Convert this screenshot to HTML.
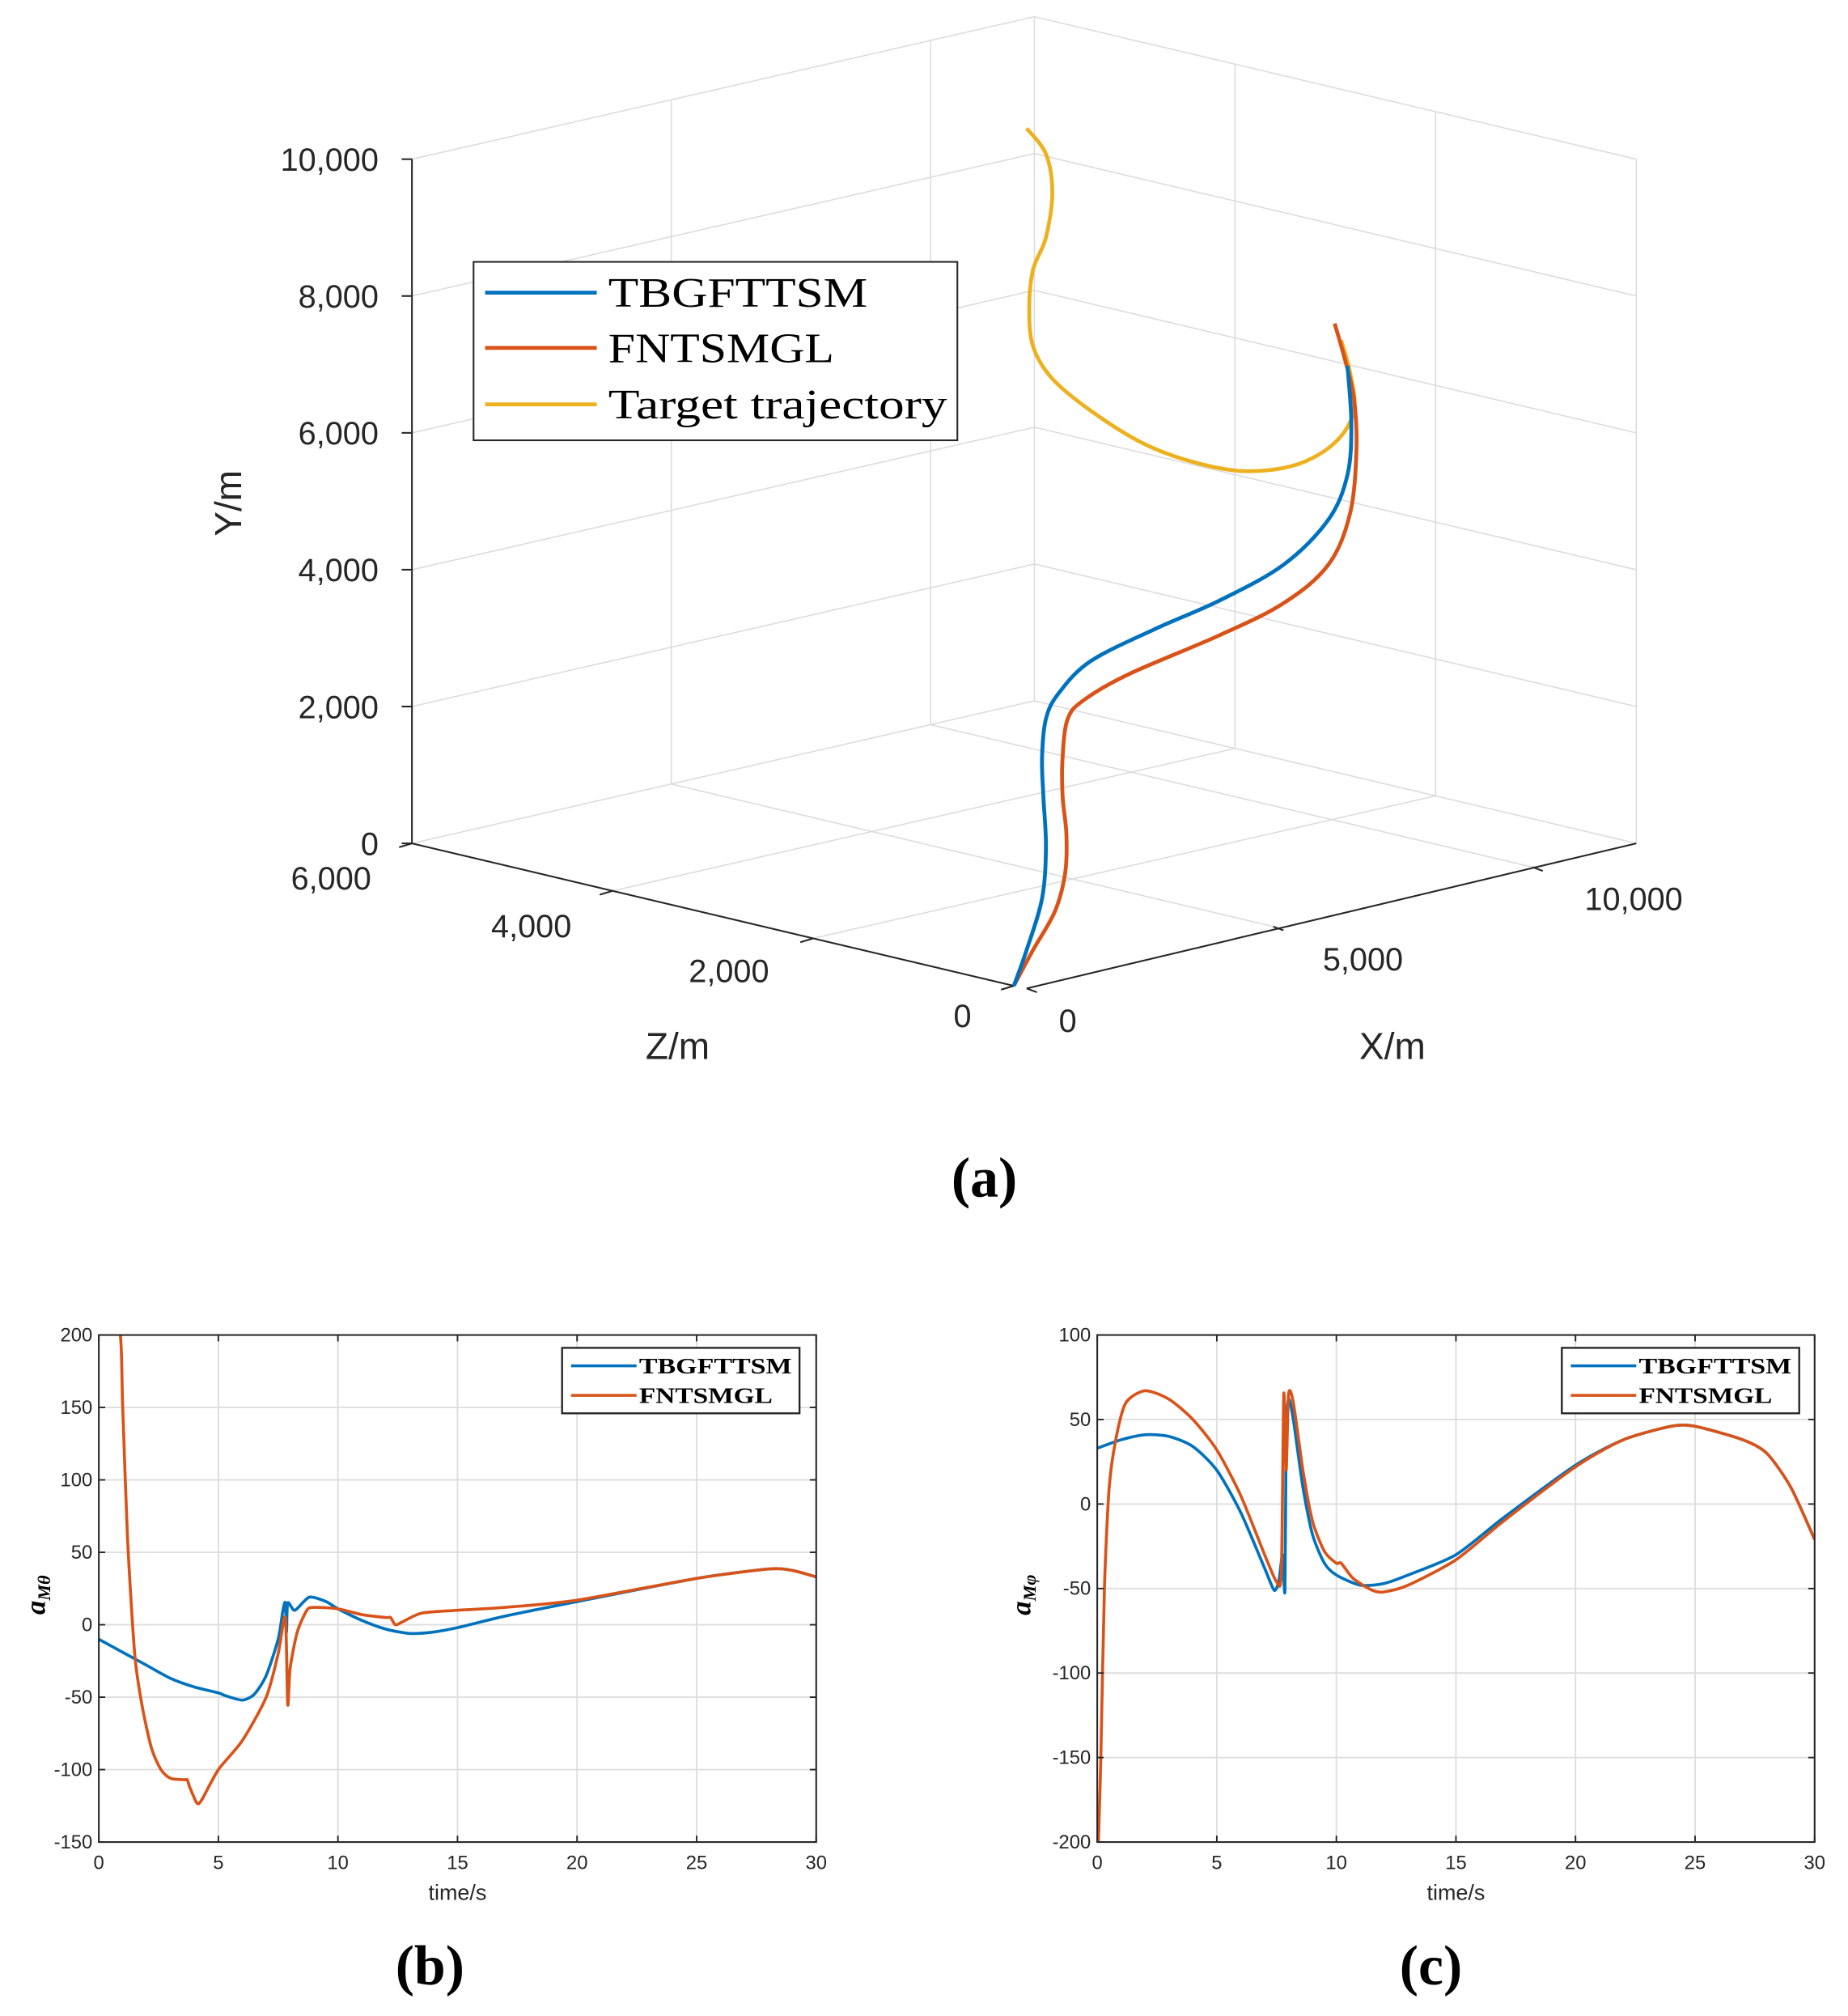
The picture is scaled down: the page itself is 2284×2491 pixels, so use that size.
<!DOCTYPE html>
<html><head><meta charset="utf-8"><style>
html,body{margin:0;padding:0;background:#fff}
svg{display:block}
text{font-family:"Liberation Sans",sans-serif;fill:#262626}
.serif{font-family:"Liberation Serif",serif;fill:#000}
</style></head><body>
<svg id="fig" width="2284" height="2491" viewBox="0 0 1440 1570.5" preserveAspectRatio="none" xmlns="http://www.w3.org/2000/svg">
<g id="panelA"></g>
<g id="panelB"></g>
<g id="panelC"></g>
<text class="serif" x="767" y="932" font-size="44" font-weight="bold" text-anchor="middle">(a)</text>
<text class="serif" x="335" y="1546" font-size="44" font-weight="bold" text-anchor="middle">(b)</text>
<text class="serif" x="1115" y="1546" font-size="44" font-weight="bold" text-anchor="middle">(c)</text>
</svg>
<script>
// ===== Panel (a) 3D data (metres) =====
const blueX=[0,247,544,619,569,544,619,866,1484,2721,3958,5195,6061,6432,6507,6432];
const blueY=[0,482,1182,1919,2677,3246,3795,4128,4490,4743,4942,5251,5758,6351,7088,7946];
const redX=[0,371,792,990,1014,940,940,1039,1361,2227,3958,5195,6061,6482,6606,6556,6383,6185];
const redY=[0,461,951,1478,2037,2613,3176,3722,3947,4173,4435,4689,5101,5779,6696,7454,8049,8608];
const tgtX=[247,619,742,619,371,297,371,742,1484,2474,3464,4453,5443,6185,6556,6482,6309];
const tgtY=[12490,12051,11465,10831,10405,9856,9280,8745,8148,7507,7054,6750,6672,6863,7266,7842,8341];
const yTicks3=[0,2000,4000,6000,8000,10000];
const xTicks3=[0,5000,10000];
const zTicks3=[0,2000,4000,6000];
// ===== Panel (b) =====
const bBlueT=[0,1,2,3,4,5,5.3,6,6.5,7,7.5,7.7,7.8,7.85,7.9,8.2,8.8,9.5,10,11,12,13,14,15,17,20,25,28,29,30];
const bBlueV=[-10,-19,-28,-37,-43,-47,-49,-52,-48,-35,-10,10,15,-5,15,10,19,16,11,3,-3,-6,-5,-2,6,16,32,38.5,37.5,33];
const bRedT=[0,0.85,1.0,1.2,1.5,1.8,2.2,2.6,3,3.6,3.7,3.8,4.1,4.3,5,6,7,7.5,7.8,7.9,8.0,8.3,8.7,9,10,11,12,12.2,12.4,12.7,13.5,15,17,20,25,28,29,30];
const bRedV=[205,205,150,60,-20,-55,-85,-100,-106,-107,-107,-112,-123,-121,-100,-80,-50,-20,5,-55,-30,-5,10,12,11,7,5,5,0,2,8,10,12,17,32,38.5,37.5,33];
const bXTicks=[0,5,10,15,20,25,30];
const bYTicks=[-150,-100,-50,0,50,100,150,200];
// ===== Panel (c) =====
const cBlueT=[0,1,2,3,4,5,6,7,7.4,7.6,7.75,7.85,7.9,8.0,8.2,8.6,9,9.5,10,11,12,13,15,17,20,22,24,25,27,28,29,30];
const cBlueV=[33,38,41,40,34,20,-5,-38,-51,-45,-30,-51,40,62,50,10,-18,-35,-42,-48,-47,-42,-30,-8,23,38,46,46,38,30,10,-21];
const cRedT=[0.05,0.15,0.3,0.5,0.8,1.2,2,3,4,5,6,7,7.5,7.7,7.8,7.9,8.0,8.2,8.6,9,9.5,10,10.2,10.7,11.5,12,13,15,17,20,22,24,25,27,28,29,30];
const cRedV=[-200,-150,-50,10,40,60,67,62,50,32,5,-30,-46,-40,65,20,65,60,20,-10,-28,-35,-35,-44,-51,-52,-48,-33,-10,22,38,46,46,38,30,10,-21];
const cXTicks=[0,5,10,15,20,25,30];
const cYTicks=[-200,-150,-100,-50,0,50,100];

const NS="http://www.w3.org/2000/svg";
function mk(parent,tag,attrs,name,txt){
  const e=document.createElementNS(NS,tag);
  for(const k in attrs)e.setAttribute(k,attrs[k]);
  
  
  if(txt!==undefined)e.textContent=txt;
  parent.appendChild(e);return e;
}
function smooth(pts,k){
  k=k||6;
  let d="M"+pts[0][0].toFixed(2)+","+pts[0][1].toFixed(2);
  for(let i=0;i<pts.length-1;i++){
    const p0=pts[Math.max(0,i-1)],p1=pts[i],p2=pts[i+1],p3=pts[Math.min(pts.length-1,i+2)];
    const c1=[p1[0]+(p2[0]-p0[0])/k,p1[1]+(p2[1]-p0[1])/k];
    const c2=[p2[0]-(p3[0]-p1[0])/k,p2[1]-(p3[1]-p1[1])/k];
    d+=" C"+c1[0].toFixed(2)+","+c1[1].toFixed(2)+" "+c2[0].toFixed(2)+","+c2[1].toFixed(2)+" "+p2[0].toFixed(2)+","+p2[1].toFixed(2);
  }
  return d;
}
const BLUE="#0072BD",RED="#D95319",YEL="#EDB120";

// ===== 3D projection =====
const XMAX=12000,ZMAX=6000,YMAX=10000;
function proj(X,Y,Z){
  return [790+X*485/XMAX-Z*469/ZMAX, 768-X*111/XMAX-Z*111/ZMAX-Y*533/YMAX];
}
(function(){
  const g=document.getElementById('panelA');
  const grid={stroke:"#dcdcdc","stroke-width":1,fill:"none"};
  function line(a,b,st,name){mk(g,'line',Object.assign({x1:a[0],y1:a[1],x2:b[0],y2:b[1]},st),name);}
  yTicks3.forEach(y=>{
    line(proj(0,y,ZMAX),proj(XMAX,y,ZMAX),grid,'left-wall-gridline');
    line(proj(XMAX,y,ZMAX),proj(XMAX,y,0),grid,'right-wall-gridline');
  });
  line(proj(XMAX,0,ZMAX),proj(XMAX,YMAX,ZMAX),grid,'back-edge');
  line(proj(XMAX,0,0),proj(XMAX,YMAX,0),grid,'right-edge');
  xTicks3.slice(1).forEach(x=>{
    line(proj(x,0,ZMAX),proj(x,YMAX,ZMAX),grid,'left-wall-vertical-gridline');
    line(proj(x,0,0),proj(x,0,ZMAX),grid,'floor-gridline-x');
  });
  zTicks3.slice(1,3).forEach(z=>{
    line(proj(XMAX,0,z),proj(XMAX,YMAX,z),grid,'right-wall-vertical-gridline');
    line(proj(0,0,z),proj(XMAX,0,z),grid,'floor-gridline-z');
  });
  const ax={stroke:"#262626","stroke-width":1.3};
  line(proj(0,0,ZMAX),proj(0,YMAX,ZMAX),ax,'y-axis');
  line(proj(0,0,ZMAX),proj(0,0,0),ax,'z-axis');
  line([proj(0,0,0)[0]+10,proj(0,0,0)[1]+2],proj(XMAX,0,0),ax,'x-axis');
  yTicks3.forEach(y=>{
    const p=proj(0,y,ZMAX);
    line(p,[p[0]-8,p[1]],ax,'y-tick');
    mk(g,'text',{x:p[0]-26,y:p[1]+9,"font-size":25,"text-anchor":"end"},'y-tick-label',y.toLocaleString('en-US'));
  });
  zTicks3.forEach(z=>{
    const p=proj(0,0,z);
    line(p,[p[0]-10,p[1]+3],ax,'z-tick');
  });
  const zl=[[0,[750,800]],[2000,[568,765]],[4000,[414,730]],[6000,[258,693]]];
  zl.forEach(([z,p])=>{mk(g,'text',{x:p[0],y:p[1],"font-size":25,"text-anchor":"middle"},'z-tick-label',z.toLocaleString('en-US'));});
  xTicks3.forEach(x=>{
    const p=proj(x,0,0);
    const o=x===0?[10,2]:[0,0];
    line([p[0]+o[0],p[1]+o[1]],[p[0]+o[0]+8,p[1]+o[1]+3],ax,'x-tick');
  });
  const xl=[[0,[832,804]],[5000,[1062,756]],[10000,[1273,709]]];
  xl.forEach(([x,p])=>{mk(g,'text',{x:p[0],y:p[1],"font-size":25,"text-anchor":"middle"},'x-tick-label',x.toLocaleString('en-US'));});
  mk(g,'text',{x:528,y:825,"font-size":29,"text-anchor":"middle"},'z-axis-title','Z/m');
  mk(g,'text',{x:1085,y:825,"font-size":29,"text-anchor":"middle"},'x-axis-title','X/m');
  mk(g,'text',{x:188,y:392,"font-size":29,"text-anchor":"middle",transform:"rotate(-90 188 392)"},'y-axis-title','Y/m');
  function curve(X,Y,col,name){
    const pts=X.map((x,i)=>proj(x,Y[i],0));
    mk(g,'path',{d:smooth(pts),stroke:col,"stroke-width":3,fill:"none","stroke-linejoin":"round"},name);
  }
  curve(tgtX,tgtY,YEL,'target-trajectory-line');
  curve(redX,redY,RED,'fntsmgl-trajectory-line');
  curve(blueX,blueY,BLUE,'tbgfttsm-trajectory-line');
  const lg=mk(g,'g',{},'legend');
  mk(lg,'rect',{x:369,y:204,width:377,height:139,fill:"#fff",stroke:"#262626","stroke-width":1.3},'legend-box');
  const items=[["TBGFTTSM",BLUE,228,202],["FNTSMGL",RED,271,176],["Target trajectory",YEL,315,264]];
  items.forEach(([t,c,y,w])=>{
    mk(lg,'line',{x1:378,y1:y,x2:465,y2:y,stroke:c,"stroke-width":3},'legend-swatch');
    mk(lg,'text',{x:474,y:y+11,"font-size":33,class:"serif",textLength:w,lengthAdjust:"spacingAndGlyphs"},'legend-entry',t);
  });
})();

// ===== 2D charts =====
function chart2d(gid,L,R,T,B,yMin,yMax,xT,yT,series,ylab,lgx){
  const g=document.getElementById(gid);
  const sx=t=>L+(t/30)*(R-L);
  const sy=v=>B-(v-yMin)/(yMax-yMin)*(B-T);
  const cid=gid+"clip";
  const cp=mk(g,'clipPath',{id:cid},'clip-region');
  mk(cp,'rect',{x:L,y:T,width:R-L,height:B-T},'clip-rect');
  xT.forEach(t=>{ if(t>0&&t<30) mk(g,'line',{x1:sx(t),y1:T,x2:sx(t),y2:B,stroke:"#dedede","stroke-width":1.2},'x-gridline');});
  yT.forEach(v=>{ if(v>yMin&&v<yMax) mk(g,'line',{x1:L,y1:sy(v),x2:R,y2:sy(v),stroke:"#dedede","stroke-width":1.2},'y-gridline');});
  const sg=mk(g,'g',{"clip-path":"url(#"+cid+")"},'series-group');
  series.forEach(([T2,V,c,n])=>{
    const pts=T2.map((t,i)=>[sx(t),sy(V[i])]);
    mk(sg,'path',{d:smooth(pts,8),stroke:c,"stroke-width":2.3,fill:"none","stroke-linejoin":"round"},n);
  });
  mk(g,'rect',{x:L,y:T,width:R-L,height:B-T,fill:"none",stroke:"#262626","stroke-width":1.3},'axes-box');
  xT.forEach(t=>{
    mk(g,'line',{x1:sx(t),y1:B,x2:sx(t),y2:B-5,stroke:"#262626","stroke-width":1.2},'x-tick');
    mk(g,'line',{x1:sx(t),y1:T,x2:sx(t),y2:T+5,stroke:"#262626","stroke-width":1.2},'x-tick-top');
    mk(g,'text',{x:sx(t),y:B+21,"font-size":15,"text-anchor":"middle"},'x-tick-label',String(t));
  });
  yT.forEach(v=>{
    mk(g,'line',{x1:L,y1:sy(v),x2:L+5,y2:sy(v),stroke:"#262626","stroke-width":1.2},'y-tick');
    mk(g,'line',{x1:R,y1:sy(v),x2:R-5,y2:sy(v),stroke:"#262626","stroke-width":1.2},'y-tick-right');
    mk(g,'text',{x:L-5,y:sy(v)+5,"font-size":15,"text-anchor":"end"},'y-tick-label',String(v));
  });
  mk(g,'text',{x:(L+R)/2,y:B+45,"font-size":17,"text-anchor":"middle"},'x-axis-title','time/s');
  const yx=L-(gid==='panelB'?42:52), yy=(T+B)/2+5;
  const yl=mk(g,'text',{x:yx,y:yy,"font-size":22,"text-anchor":"middle",class:"serif","font-style":"italic","font-weight":"bold",transform:"rotate(-90 "+yx+" "+yy+")"},'y-axis-title');
  yl.textContent='a';
  const sub=document.createElementNS(NS,'tspan');
  
  
  sub.setAttribute('font-size','14');sub.setAttribute('dy','4');
  sub.textContent=ylab;yl.appendChild(sub);
  const lg=mk(g,'g',{},'legend');
  mk(lg,'rect',{x:lgx,y:T+10,width:185,height:51,fill:"#fff",stroke:"#262626","stroke-width":1.5},'legend-box');
  [["TBGFTTSM",BLUE,T+24,119],["FNTSMGL",RED,T+47,104]].forEach(([t,c,y,w])=>{
    mk(lg,'line',{x1:lgx+7,y1:y,x2:lgx+58,y2:y,stroke:c,"stroke-width":2.2},'legend-swatch');
    mk(lg,'text',{x:lgx+60,y:y+6,"font-size":17,"font-weight":"bold",class:"serif",textLength:w,lengthAdjust:"spacingAndGlyphs"},'legend-entry',t);
  });
}
chart2d('panelB',77,636,1040,1435,-150,200,bXTicks,bYTicks,
  [[bBlueT,bBlueV,BLUE,'tbgfttsm-line'],[bRedT,bRedV,RED,'fntsmgl-line']],'Mθ',438);
chart2d('panelC',855,1414,1040,1435,-200,100,cXTicks,cYTicks,
  [[cBlueT,cBlueV,BLUE,'tbgfttsm-line'],[cRedT,cRedV,RED,'fntsmgl-line']],'Mφ',1217);
</script>
</body></html>
